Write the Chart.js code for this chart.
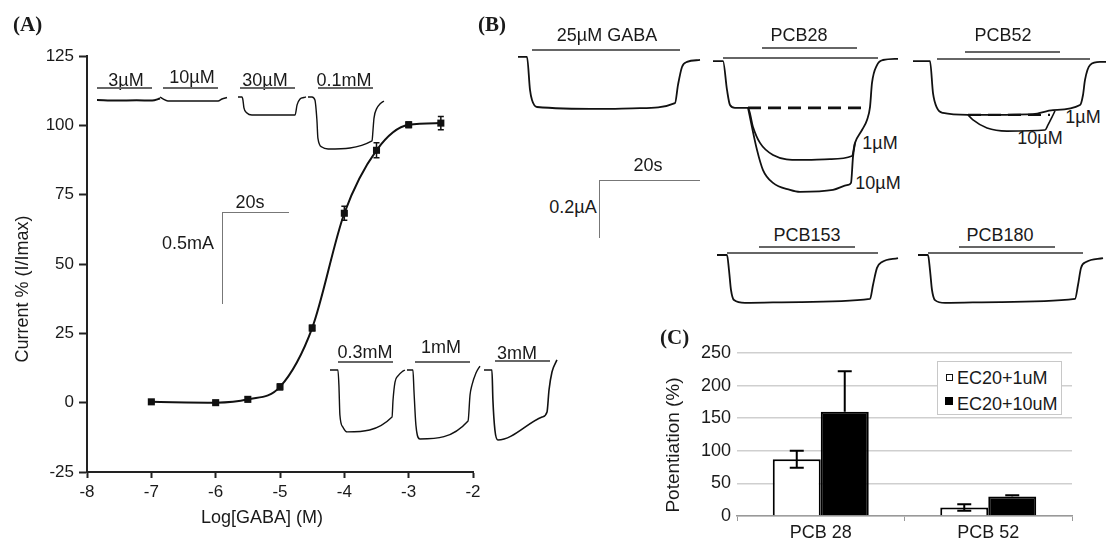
<!DOCTYPE html>
<html>
<head>
<meta charset="utf-8">
<script src="https://cdn.jsdelivr.net/npm/chart.js@4.4.1/dist/chart.umd.min.js"></script>
<style>
  body { margin: 0; background: #fff; }
  #page { position: relative; width: 1106px; height: 540px; overflow: hidden;
          font-family: "Liberation Sans", Arial, sans-serif; color: #1a1a1a; }
  canvas { position: absolute; }
  .lbl { position: absolute; transform: translate(-50%, -50%); white-space: nowrap; font-size: 18px; line-height: 1; }
  .left { transform: translate(0, -50%); }
  .rot { transform: translate(-50%, -50%) rotate(-90deg); }
  .panel { position: absolute; font-family: "Liberation Serif", "Times New Roman", serif; font-weight: bold; font-size: 21px; line-height: 1; }
  .hbar { position: absolute; height: 2px; background: #666; }
  .sbar { position: absolute; border-top: 1.5px solid #777; border-left: 1.5px solid #777; }
  #legendC { position: absolute; left: 937px; top: 361px; width: 125px; height: 54px; background: #fff;
             border: 1px solid #c8c8c8; box-sizing: border-box; z-index: 3; }
  .sq { position: absolute; box-sizing: border-box; }
</style>
</head>
<body>
<div id="page">
  <canvas id="doseChart" width="500" height="540" style="left:0;top:0"></canvas>
  <canvas id="potChart" width="466" height="210" style="left:640px;top:330px"></canvas>

  <div class="panel" style="left:13px;top:14px">(A)</div>
  <div class="panel" style="left:478px;top:14px">(B)</div>
  <div class="panel" style="left:660px;top:327px">(C)</div>

  <!-- panel A axis titles -->
  <div class="lbl rot" style="left:22px;top:289px">Current % (I/Imax)</div>
  <div class="lbl" style="left:262px;top:517px">Log[GABA] (M)</div>

  <!-- panel A inset labels and application bars -->
  <div class="lbl" style="left:126px;top:80px">3µM</div>
  <div class="lbl" style="left:192px;top:77px">10µM</div>
  <div class="lbl" style="left:265px;top:80px">30µM</div>
  <div class="lbl" style="left:344px;top:80px">0.1mM</div>
  <div class="hbar" style="left:97px;top:87px;width:55px"></div>
  <div class="hbar" style="left:163px;top:87px;width:55px"></div>
  <div class="hbar" style="left:240px;top:87px;width:55px"></div>
  <div class="hbar" style="left:318px;top:87px;width:55px"></div>
  <div class="lbl" style="left:365px;top:352px">0.3mM</div>
  <div class="lbl" style="left:441px;top:347px">1mM</div>
  <div class="lbl" style="left:517px;top:353px">3mM</div>
  <div class="hbar" style="left:338px;top:361px;width:55px"></div>
  <div class="hbar" style="left:415px;top:361px;width:55px"></div>
  <div class="hbar" style="left:495px;top:360px;width:55px"></div>

  <!-- panel A scale bar -->
  <div class="sbar" style="left:222px;top:212px;width:66px;height:91px"></div>
  <div class="lbl" style="left:250px;top:202px">20s</div>
  <div class="lbl" style="left:188px;top:243px">0.5mA</div>

  <!-- panel B labels and bars -->
  <div class="lbl" style="left:607px;top:35px">25µM GABA</div>
  <div class="hbar" style="left:532px;top:49px;width:148px"></div>
  <div class="lbl" style="left:799px;top:35px">PCB28</div>
  <div class="hbar" style="left:762px;top:47px;width:95px"></div>
  <div class="hbar" style="left:723px;top:57px;width:155px"></div>
  <div class="lbl" style="left:1003px;top:35px">PCB52</div>
  <div class="hbar" style="left:965px;top:51px;width:95px"></div>
  <div class="hbar" style="left:937px;top:58px;width:153px"></div>
  <div class="lbl" style="left:880px;top:143px">1µM</div>
  <div class="lbl" style="left:878px;top:183px">10µM</div>
  <div class="lbl" style="left:1083px;top:117px">1µM</div>
  <div class="lbl" style="left:1040px;top:138px">10µM</div>
  <div class="lbl" style="left:807px;top:235px">PCB153</div>
  <div class="hbar" style="left:759px;top:246px;width:96px"></div>
  <div class="hbar" style="left:727px;top:252px;width:151px"></div>
  <div class="lbl" style="left:1000px;top:235px">PCB180</div>
  <div class="hbar" style="left:959px;top:246px;width:96px"></div>
  <div class="hbar" style="left:928px;top:252px;width:155px"></div>

  <!-- panel B scale bar -->
  <div class="sbar" style="left:599px;top:180px;width:100px;height:57px"></div>
  <div class="lbl" style="left:648px;top:165px">20s</div>
  <div class="lbl" style="left:573px;top:207px">0.2µA</div>

  <!-- panel C -->
  <div class="lbl rot" style="left:672px;top:445px;font-size:19px">Potentiation (%)</div>
  <div id="legendC">
    <div class="sq" style="left:8px;top:12px;width:7px;height:7px;border:1.5px solid #111;background:#fff"></div>
    <div class="lbl left" style="left:19px;top:16px">EC20+1uM</div>
    <div class="sq" style="left:7px;top:35px;width:8px;height:8px;background:#000"></div>
    <div class="lbl left" style="left:19px;top:42px">EC20+10uM</div>
  </div>
</div>

<script>
// ---- panel A: dose-response ----
const doseLog = [-7, -6, -5.5, -5, -4.5, -4, -3.5, -3, -2.5];
const doseCurrent = [0.3, 0, 1.2, 5.7, 26.9, 68.3, 91, 100.2, 100.8];
const doseSem = [0.5, 0.5, 0.8, 1, 1, 2.5, 2.7, 1, 2.4];

// ---- panel C: potentiation ----
const pcbGroups = ['PCB 28', 'PCB 52'];
const potent1uM = [87, 13];
const potent1uMErr = [13, 5];
const potent10uM = [160, 30];
const potent10uMErr = [62, 2];

// ---- panel A inset traces: [time s, current mA] ----
const tr3uM = [[0, 0], [6, -0.003], [12, -0.002], [16.7, -0.003], [19.1, 0.008]];
const tr10uM = [[0, 0], [0.9, -0.011], [2.4, -0.022], [17.6, -0.022], [18.8, -0.011], [20.3, -0.003]];
const tr30uM = [[0, 0], [1.2, 0], [1.5, -0.017], [1.8, -0.061], [2.7, -0.089], [4.2, -0.1], [17.3, -0.1],
                [17.9, -0.044], [18.8, -0.011], [20, -0.003], [20.6, 0]];
const tr01mM = [[0, 0], [1.2, 0], [2.1, -0.017], [2.7, -0.128], [3, -0.228], [4.2, -0.278], [6.1, -0.289],
                [19.4, -0.244], [19.7, -0.183], [20, -0.117], [20.9, -0.061], [21.8, -0.039], [23, -0.022]];
const tr03mM = [[0, 0], [2.4, 0], [2.7, -0.083], [3, -0.25], [3.9, -0.317], [5.2, -0.344], [18.8, -0.261],
                [19.1, -0.167], [19.7, -0.067], [20.6, -0.033], [22.1, -0.006], [22.7, 0]];
const tr1mM = [[0, 0], [1.8, 0], [2.1, -0.111], [2.7, -0.306], [3.9, -0.383], [18.5, -0.283], [19.1, -0.139],
               [19.7, -0.083], [20.9, -0.017], [22.1, 0.022]];
const tr3mM = [[0, 0], [2.4, 0], [2.7, -0.167], [3.3, -0.333], [4.2, -0.389], [17.6, -0.261], [19.1, -0.233],
               [19.7, -0.111], [20.6, -0.011], [22.1, 0.056]];

// ---- panel B traces: [time s, current uA] ----
const trGABA = [[0, 0.004], [1.8, 0.004], [2.4, -0.114], [2.8, -0.15], [3.8, -0.175], [16.4, -0.182], [24.4, -0.179],
                [31.4, -0.161], [32, -0.096], [32.8, -0.032], [33.8, -0.014], [36.4, -0.007]];
const trPCB28_1uM = [[0, -0.004], [2, -0.004], [2.8, -0.107], [3.4, -0.161], [4.4, -0.171], [7, -0.171],
                     [8, -0.239], [9.4, -0.296], [12, -0.339], [17.4, -0.357], [23.4, -0.354], [27.8, -0.343],
                     [28.4, -0.296], [29.8, -0.25], [30.8, -0.214], [31.4, -0.168], [31.8, -0.082],
                     [32.8, -0.018], [34, 0], [37, 0.004]];
const trPCB28_10uM = [[7, -0.171], [8.8, -0.321], [10, -0.393], [12, -0.439], [15.4, -0.464], [17.4, -0.471],
                      [24, -0.464], [27, -0.446], [27.6, -0.439], [28, -0.346], [28.4, -0.296]];
const trPCB28_ref = [[7, -0.171], [30.4, -0.171]];
const trPCB52_1uM = [[0, -0.004], [3.4, -0.004], [4, -0.118], [4.8, -0.171], [6, -0.189], [11, -0.196],
                     [24, -0.193], [28, -0.179], [33.4, -0.161], [34, -0.125], [34.4, -0.071], [35.4, -0.018],
                     [37.4, -0.007], [38.6, -0.007]];
const trPCB52_10uM = [[11, -0.196], [12, -0.214], [14.8, -0.243], [18.8, -0.254], [26.4, -0.25], [27, -0.232],
                      [27.8, -0.204], [28.4, -0.182]];
const trPCB52_ref = [[11, -0.196], [27.4, -0.196]];
const trPCB153 = [[0, 0], [2, 0], [2.4, -0.054], [2.8, -0.125], [3.4, -0.161], [5.6, -0.171], [16.6, -0.168],
                  [30.6, -0.157], [31.2, -0.107], [32, -0.046], [33, -0.025], [36.2, -0.011]];
const trPCB180 = [[0, 0], [2, 0], [2.4, -0.054], [2.8, -0.125], [3.4, -0.161], [5.4, -0.171], [16.4, -0.168],
                  [31.4, -0.157], [32, -0.107], [32.6, -0.046], [33.6, -0.025], [37, -0.011]];

Chart.defaults.font.family = "'Liberation Sans', Arial, sans-serif";
Chart.defaults.color = '#1a1a1a';

const errorBarsA = {
  id: 'errorBarsA',
  afterDatasetsDraw(chart) {
    const { ctx, scales: { x, y } } = chart;
    ctx.save();
    ctx.strokeStyle = '#111';
    ctx.lineWidth = 1.5;
    doseLog.forEach((v, i) => {
      const px = x.getPixelForValue(v);
      const top = y.getPixelForValue(doseCurrent[i] + doseSem[i]);
      const bot = y.getPixelForValue(doseCurrent[i] - doseSem[i]);
      ctx.beginPath();
      ctx.moveTo(px, top); ctx.lineTo(px, bot);
      ctx.moveTo(px - 3, top); ctx.lineTo(px + 3, top);
      ctx.moveTo(px - 3, bot); ctx.lineTo(px + 3, bot);
      ctx.stroke();
    });
    ctx.restore();
  }
};

function addDoseChart() {
  const ctx = document.getElementById('doseChart');
  new Chart(ctx, {
    type: 'scatter',
    data: {
      datasets: [{
        data: doseLog.map((x, i) => ({ x: x, y: doseCurrent[i] })),
        showLine: true,
        cubicInterpolationMode: 'monotone',
        borderColor: '#111',
        borderWidth: 2,
        pointStyle: 'rect',
        pointRadius: 5,
        pointBackgroundColor: '#111',
        pointBorderWidth: 0
      }]
    },
    options: {
      responsive: false,
      animation: false,
      devicePixelRatio: 1,
      layout: { padding: { top: 56, right: 27, left: 0, bottom: 0 } },
      plugins: { legend: { display: false }, tooltip: { enabled: false } },
      scales: {
        x: {
          type: 'linear', min: -8, max: -2,
          ticks: { stepSize: 1, font: { size: 17 }, color: '#1a1a1a', padding: 4 },
          grid: { drawOnChartArea: false, tickLength: 6, tickColor: '#222', tickWidth: 2 },
          border: { color: '#222', width: 2 },
          afterFit(scale) { scale.height = 68; }
        },
        y: {
          min: -25, max: 125,
          ticks: { stepSize: 25, font: { size: 17 }, color: '#1a1a1a', padding: 5 },
          grid: { drawOnChartArea: false, tickLength: 8, tickColor: '#222', tickWidth: 2 },
          border: { color: '#222', width: 2 },
          afterFit(scale) { scale.width = 87; }
        }
      }
    },
    plugins: [errorBarsA]
  });
}

const errorBarsC = {
  id: 'errorBarsC',
  afterDatasetsDraw(chart) {
    const { ctx, scales: { y } } = chart;
    const errs = [potent1uMErr, potent10uMErr];
    ctx.save();
    ctx.strokeStyle = '#000';
    ctx.lineWidth = 2;
    chart.data.datasets.forEach((ds, d) => {
      // the lower whisker of a filled bar is hidden by the bar itself
      const showLower = ds.backgroundColor === '#fff';
      chart.getDatasetMeta(d).data.forEach((bar, i) => {
        const top = y.getPixelForValue(ds.data[i] + errs[d][i]);
        const bot = showLower ? y.getPixelForValue(ds.data[i] - errs[d][i]) : bar.y;
        ctx.beginPath();
        ctx.moveTo(bar.x, top); ctx.lineTo(bar.x, bot);
        ctx.moveTo(bar.x - 7, top); ctx.lineTo(bar.x + 7, top);
        if (showLower) { ctx.moveTo(bar.x - 7, bot); ctx.lineTo(bar.x + 7, bot); }
        ctx.stroke();
      });
    });
    ctx.restore();
  }
};

function addPotentiationChart() {
  const ctx = document.getElementById('potChart');
  new Chart(ctx, {
    type: 'bar',
    data: {
      labels: pcbGroups,
      datasets: [
        { label: 'EC20+1uM', data: potent1uM, backgroundColor: '#fff', borderColor: '#000', borderWidth: 2 },
        { label: 'EC20+10uM', data: potent10uM, backgroundColor: '#000', borderColor: '#000', borderWidth: 2 }
      ]
    },
    options: {
      responsive: false,
      animation: false,
      devicePixelRatio: 1,
      datasets: { bar: { barPercentage: 1, categoryPercentage: 0.573 } },
      layout: { padding: { top: 23, right: 34, left: 0, bottom: 0 } },
      plugins: { legend: { display: false }, tooltip: { enabled: false } },
      scales: {
        x: {
          ticks: { font: { size: 18 }, color: '#1a1a1a', padding: 1 },
          grid: { drawOnChartArea: false, tickLength: 5, color: '#999' },
          border: { color: '#999', width: 1.5 },
          afterFit(scale) { scale.height = 24; }
        },
        y: {
          min: 0, max: 250,
          ticks: { stepSize: 50, font: { size: 18 }, color: '#1a1a1a', padding: 6 },
          grid: { color: '#cfcfcf', lineWidth: 1.5, drawTicks: false },
          border: { display: false },
          afterFit(scale) { scale.width = 97; }
        }
      }
    },
    plugins: [errorBarsC]
  });
}

// one small chart per recorded trace group; origin = page pixel of t=0 on the baseline
function addTrace(origin, pxPerUnit, series) {
  let tMax = 0, iMin = 0;
  series.forEach(s => s.points.forEach(p => { tMax = Math.max(tMax, p[0]); iMin = Math.min(iMin, p[1]); }));
  const padL = 4, padT = 14;
  const w = Math.ceil(tMax * pxPerUnit[0]) + 12;
  const h = Math.ceil(-iMin * pxPerUnit[1]) + padT + 10;
  const cv = document.createElement('canvas');
  cv.width = w;
  cv.height = h;
  cv.style.left = (origin[0] - padL) + 'px';
  cv.style.top = (origin[1] - padT) + 'px';
  cv.style.zIndex = 2;
  document.getElementById('page').appendChild(cv);
  new Chart(cv, {
    type: 'scatter',
    data: {
      datasets: series.map(s => ({
        data: s.points.map(p => ({ x: p[0], y: p[1] })),
        showLine: true,
        pointRadius: 0,
        borderColor: '#111',
        borderWidth: s.width,
        borderDash: s.dash || [],
        cubicInterpolationMode: s.dash ? 'default' : 'monotone'
      }))
    },
    options: {
      responsive: false,
      animation: false,
      devicePixelRatio: 1,
      layout: { padding: 0 },
      plugins: { legend: { display: false }, tooltip: { enabled: false } },
      scales: {
        x: { type: 'linear', display: false, min: -padL / pxPerUnit[0], max: (w - padL) / pxPerUnit[0] },
        y: { type: 'linear', display: false, max: padT / pxPerUnit[1], min: -(h - padT) / pxPerUnit[1] }
      }
    }
  });
}

addDoseChart();
addPotentiationChart();

const scaleA = [3.3, 180];   // px per s, px per mA
const scaleB = [5, 280];     // px per s, px per uA
addTrace([97, 99.5], scaleA, [{ points: tr3uM, width: 2 }]);
addTrace([160, 97], scaleA, [{ points: tr10uM, width: 1.4 }]);
addTrace([238, 97], scaleA, [{ points: tr30uM, width: 1.4 }]);
addTrace([308, 97], scaleA, [{ points: tr01mM, width: 1.4 }]);
addTrace([330, 370], scaleA, [{ points: tr03mM, width: 1.4 }]);
addTrace([407, 370], scaleA, [{ points: tr1mM, width: 1.4 }]);
addTrace([484, 370], scaleA, [{ points: tr3mM, width: 1.6 }]);

addTrace([518, 58], scaleB, [{ points: trGABA, width: 1.8 }]);
addTrace([713, 60], scaleB, [
  { points: trPCB28_1uM, width: 1.8 },
  { points: trPCB28_10uM, width: 1.8 },
  { points: trPCB28_ref, width: 2.8, dash: [13, 7] }
]);
addTrace([913, 60], scaleB, [
  { points: trPCB52_1uM, width: 1.8 },
  { points: trPCB52_10uM, width: 1.6 },
  { points: trPCB52_ref, width: 2.4, dash: [13, 7] }
]);
addTrace([717, 255], scaleB, [{ points: trPCB153, width: 1.8 }]);
addTrace([918, 255], scaleB, [{ points: trPCB180, width: 1.8 }]);
</script>
</body>
</html>
